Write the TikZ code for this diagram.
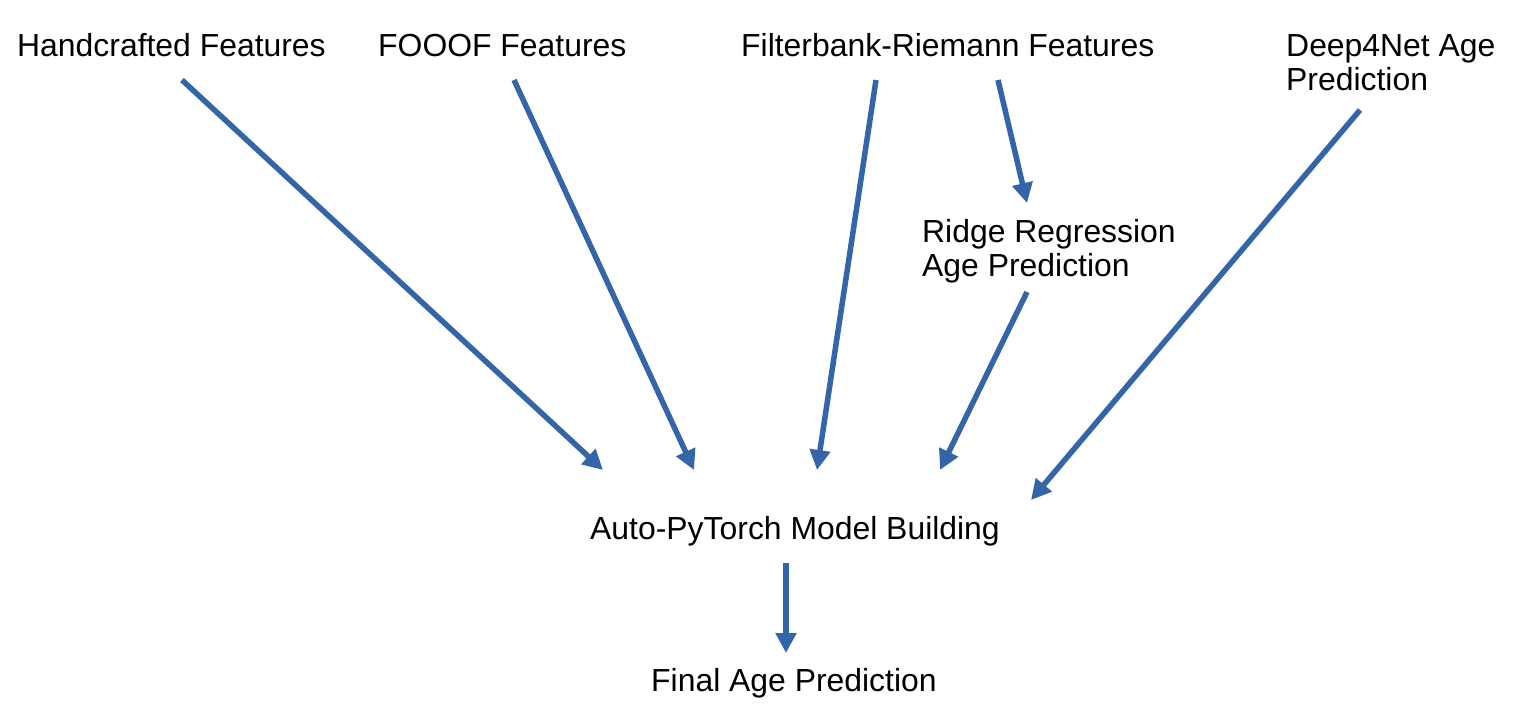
\documentclass[tikz,border=0pt]{standalone}
\usepackage{fontspec}
\setmainfont{Liberation Sans}
\usetikzlibrary{arrows.meta}
\definecolor{arrowblue}{HTML}{3465A8}
\begin{document}
\begin{tikzpicture}[x=1pt,y=-1pt,
  lbl/.style={anchor=base west,inner sep=0pt,align=left,font=\fontsize{31.9}{34}\selectfont},
  conn/.style={draw=arrowblue,line width=5.5pt,-{Triangle[width=20pt,length=20pt]}}]
\useasboundingbox[fill=white] (0,0) rectangle (1517,723);
\node[lbl] (hand) at (17,56) {Handcrafted Features};
\node[lbl] (fooof) at (378,56) {FOOOF Features};
\node[lbl] (fbr) at (741,56) {Filterbank-Riemann Features};
\node[lbl] (deep) at (1286,90) {Deep4Net Age\\Prediction};
\node[lbl] (ridge) at (922,276) {Ridge Regression\\Age Prediction};
\node[lbl] (auto) at (590,539) {Auto-PyTorch Model Building};
\node[lbl] (final) at (651,691) {Final Age Prediction};
\coordinate (hs) at (182,80);   \coordinate (ht) at (603,470);
\coordinate (fs) at (514,80);   \coordinate (ft) at (694,470);
\coordinate (bs) at (876,80);   \coordinate (bt) at (817,470);
\coordinate (rs) at (998,80);   \coordinate (rt) at (1027,203);
\coordinate (gs) at (1027,292); \coordinate (gt) at (940,470);
\coordinate (ds) at (1360,110); \coordinate (dt) at (1031,500);
\coordinate (as) at (786,563);  \coordinate (at) at (786,653);
\draw[conn] (hs) -- (ht);
\draw[conn] (fs) -- (ft);
\draw[conn] (bs) -- (bt);
\draw[conn] (rs) -- (rt);
\draw[conn] (gs) -- (gt);
\draw[conn] (ds) -- (dt);
\draw[conn] (as) -- (at);
\end{tikzpicture}
\end{document}
